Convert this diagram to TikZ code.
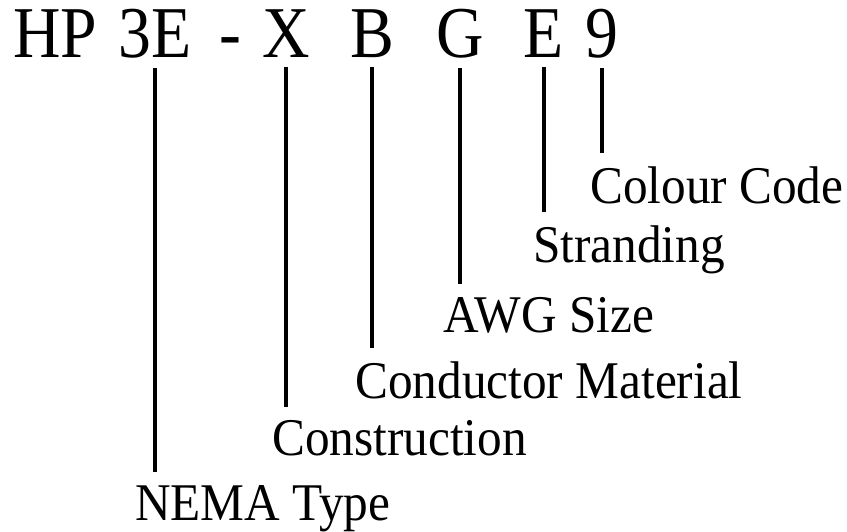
\documentclass[tikz,border=0pt]{standalone}
\usepackage{fontspec}
\usepackage{graphicx}
\setmainfont{Liberation Serif}
\newcommand{\narrow}[2][0.93]{\scalebox{#1}[1]{#2}}
\usetikzlibrary{positioning}

\begin{document}
\begin{tikzpicture}[x=1pt, y=-1pt,
  code/.style={inner sep=0pt, anchor=base, font=\fontsize{73}{73}\selectfont},
  lbl/.style={inner sep=0pt, anchor=base west, font=\fontsize{53}{53}\selectfont},
  tick/.style={line width=4pt, shorten <=10pt, shorten >=13pt}]
\useasboundingbox (0,0) rectangle (847,531);

% the part number
\node[code, anchor=base west] (hp) at (13,57) {\narrow[0.9]{HP}};
\node[code] (ne) at (155,57) {\narrow[0.9]{3E}};
\node[code] (dash) at (230,57) {\narrow[0.9]{-}};
\node[code] (cx) at (286,57) {\narrow[0.9]{X}};
\node[code] (cb) at (372,57) {\narrow[0.9]{B}};
\node[code] (cg) at (460,57) {\narrow[0.9]{G}};
\node[code] (ce) at (544,57) {\narrow[0.9]{E}};
\node[code] (c9) at (602,57) {\narrow[0.9]{9}};

% what each part means
\node[lbl] (nema) at (135,520) {\narrow{NEMA Type}};
\node[lbl] (cons) at (272,455) {\narrow{Construction}};
\node[lbl] (cond) at (355,398) {\narrow{Conductor Material}};
\node[lbl] (awg) at (443,332) {\narrow{AWG Size}};
\node[lbl] (strand) at (533,262) {\narrow{Stranding}};
\node[lbl] (colour) at (590,203) {\narrow{Colour Code}};

\draw[tick] (ne.south) -- (ne.south |- nema.north);
\draw[tick] (cx.south) -- (cx.south |- cons.north);
\draw[tick] (cb.south) -- (cb.south |- cond.north);
\draw[tick] (cg.south) -- (cg.south |- awg.north);
\draw[tick] (ce.south) -- (ce.south |- strand.north);
\draw[tick] (c9.south) -- (c9.south |- colour.north);

\end{tikzpicture}
\end{document}
